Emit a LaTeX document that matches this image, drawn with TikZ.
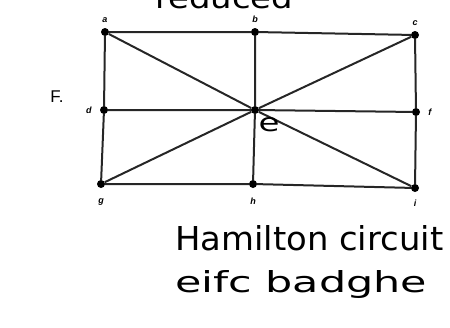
\documentclass[tikz,border=0pt]{standalone}
\usepackage{fontspec}
\setmainfont{Liberation Sans}
\newfontfamily\handfont{DejaVu Sans}
\usepackage{tikz}
\usetikzlibrary{positioning,calc}

\begin{document}
\begin{tikzpicture}[
    x=1pt,y=-1pt,
    vert/.style={circle,fill=black,inner sep=0pt,minimum size=8pt},
    vlab/.style={font=\fontsize{9}{9}\selectfont\bfseries\itshape,inner sep=1pt},
    hand/.style={font=\handfont,inner sep=0pt},
    edge/.style={line width=2pt,color=black!85}
  ]
    \useasboundingbox (0,0) rectangle (450,327);
    % vertices of the grid graph
    \node[vert] (a) at (105,32) {};
    \node[vert] (b) at (255,32) {};
    \node[vert] (c) at (415,35) {};
    \node[vert] (d) at (104,110) {};
    \node[vert] (e) at (255,110) {};
    \node[vert] (f) at (416,112) {};
    \node[vert] (g) at (101,184) {};
    \node[vert] (h) at (253,184) {};
    \node[vert] (i) at (415,188) {};
    \draw[edge] (a) -- (b) -- (c) -- (f) -- (i) -- (h) -- (g) -- (d) -- (a);
    \draw[edge] (b) -- (e) -- (h);
    \draw[edge] (d) -- (e) -- (f);
    \draw[edge] (a) -- (e) -- (i);
    \draw[edge] (c) -- (e) -- (g);
    % labels
    \node[vlab,above=4pt of a] (la) {a};
    \node[vlab,above=4pt of b] (lb) {b};
    \node[vlab,above=4pt of c] (lc) {c};
    \node[vlab,left=7pt of d] (ld) {d};
    \node[vlab,right=7pt of f] (lf) {f};
    \node[vlab,below=9pt of g] (lg) {g};
    \node[vlab,below=9pt of h] (lh) {h};
    \node[vlab,below=7pt of i] (li) {i};
    \node[hand] (le) at (269,125) {\resizebox{21pt}{14pt}{e}};
    \node[font=\fontsize{17}{17}\selectfont,inner sep=0pt] (tag) at (57,97) {F.};
    % handwritten notes
    \node[hand,anchor=base west] (top) at (155,8) {\resizebox{138pt}{22pt}{reduced}};
    \node[hand,anchor=base west] (ham) at (175,250) {\resizebox{268pt}{25pt}{Hamilton circuit}};
    \node[hand,anchor=base west] (path) at (175,292) {\resizebox{252pt}{22pt}{eifc badghe}};
  \end{tikzpicture}
\end{document}
